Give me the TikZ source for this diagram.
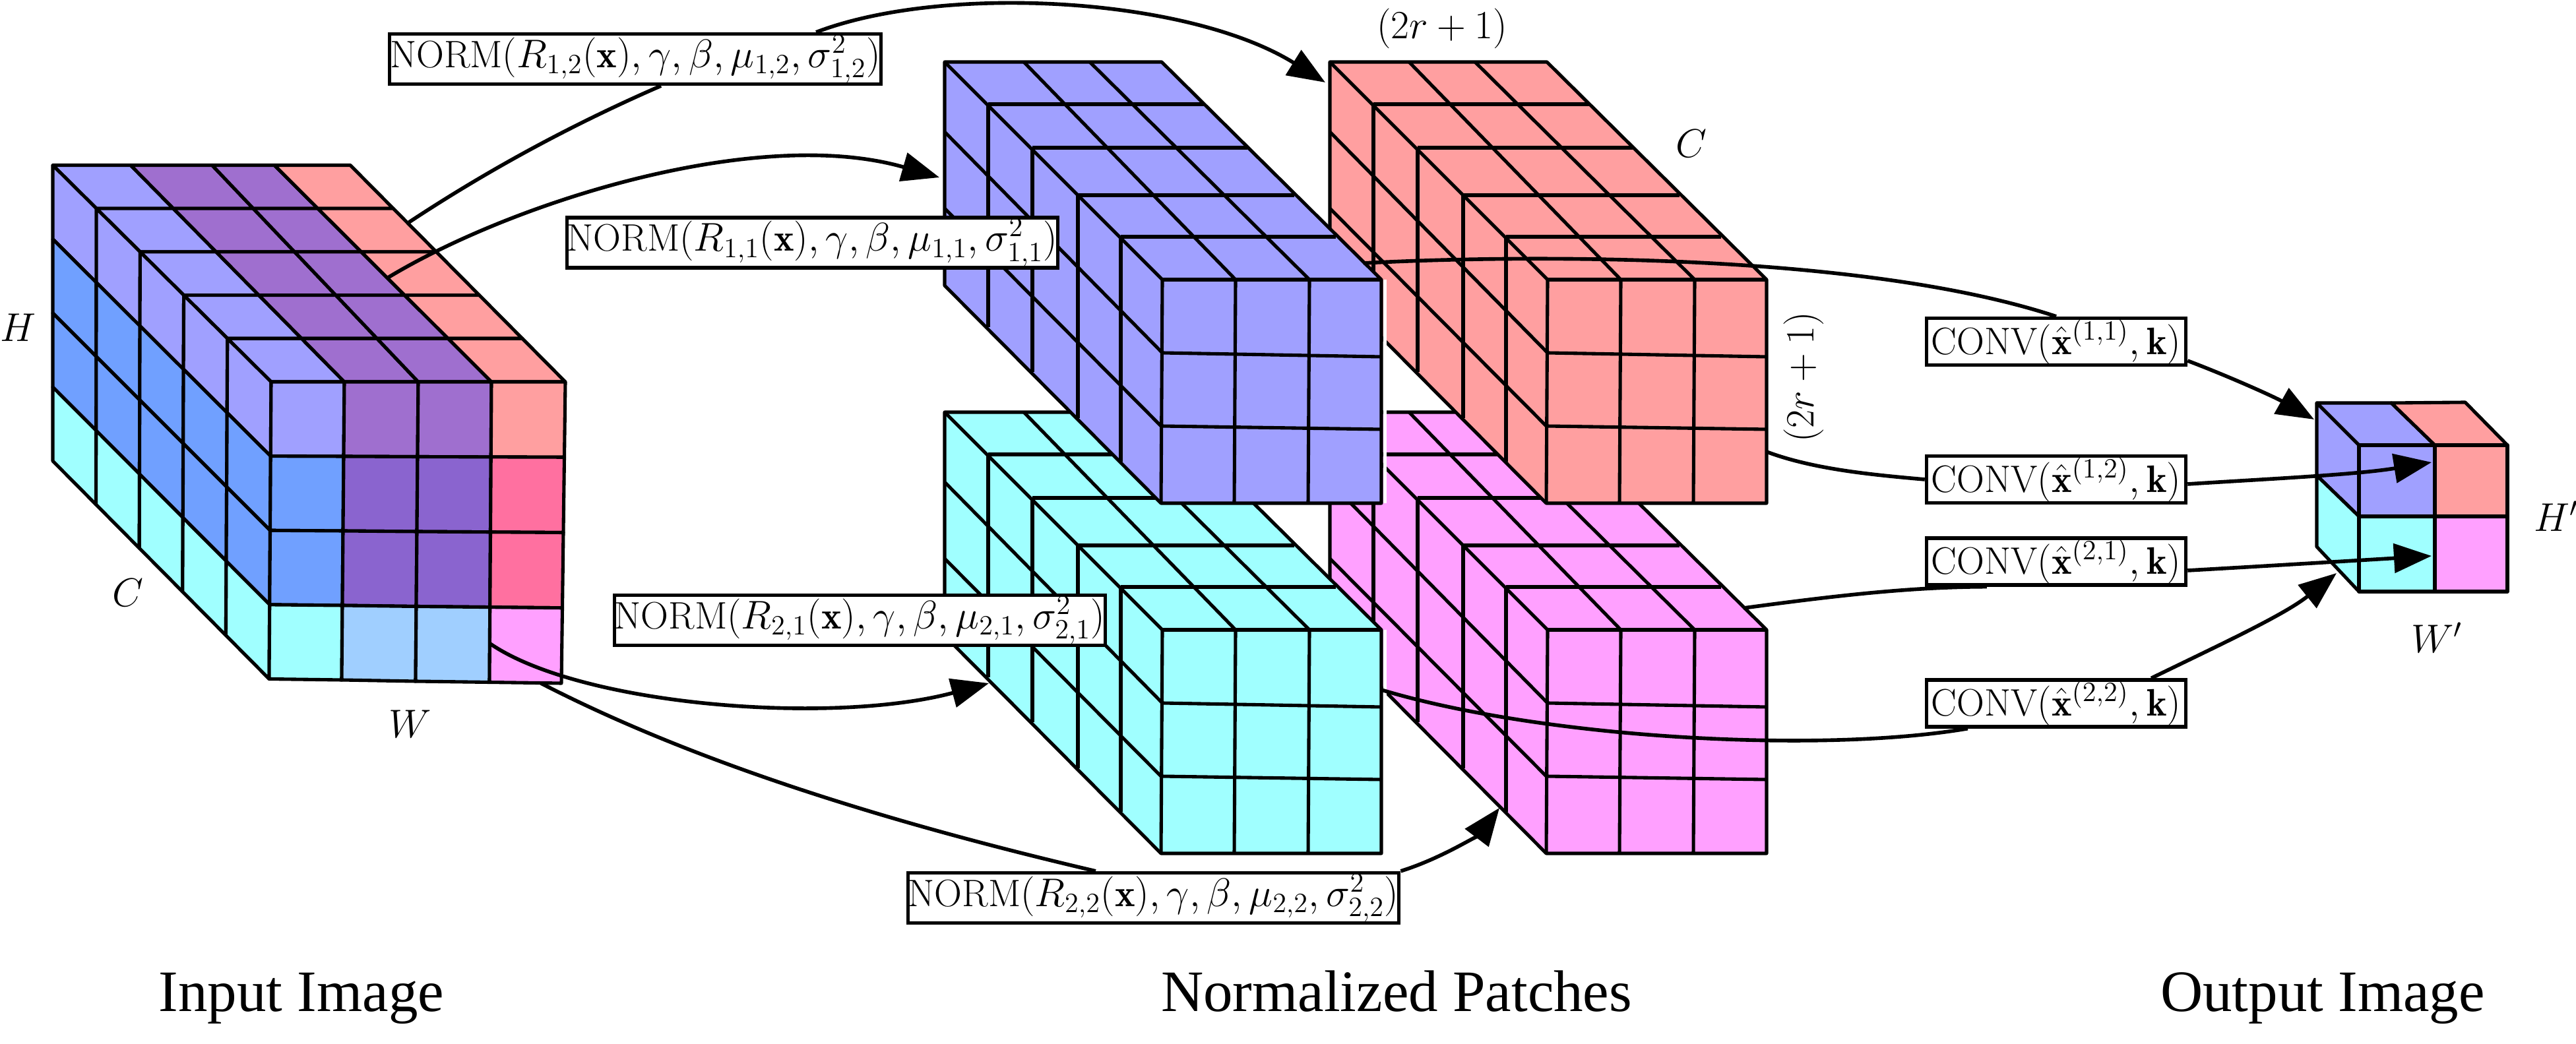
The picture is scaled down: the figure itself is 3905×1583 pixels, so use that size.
\documentclass[tikz,border=0pt]{standalone}
\usepackage{amsmath}
\usepackage{amssymb}
\usepackage{fontspec}
\newfontfamily\titlefont{Liberation Serif}
\usetikzlibrary{calc,arrows.meta}

\definecolor{cellblue}{HTML}{A0A0FF}
\definecolor{cellsky}{HTML}{70A0FF}
\definecolor{cellcyan}{HTML}{A0FFFF}
\definecolor{cellpurple}{HTML}{9F6FCF}
\definecolor{celldeep}{HTML}{8A64CF}
\definecolor{cellpale}{HTML}{A0CFFF}
\definecolor{cellred}{HTML}{FF9FA0}
\definecolor{cellrose}{HTML}{FF70A0}
\definecolor{cellpink}{HTML}{FFA0FF}

\tikzset{
  gridline/.style={line width=1.45pt, line join=round},
  flow/.style={line width=1.6pt},
  flowtip/.style={flow, -{Triangle[length=0.57cm,width=0.44cm]}},
  normbox/.style={draw, fill=white, line width=1.5pt, inner sep=0pt,
    minimum width=7.44cm, minimum height=0.76cm, font=\fontsize{16.5}{18}\selectfont},
  convbox/.style={draw, fill=white, line width=1.5pt, inner sep=0pt,
    minimum width=3.93cm, minimum height=0.71cm, font=\fontsize{16.5}{18}\selectfont},
  dimlabel/.style={font=\fontsize{17}{20}\selectfont},
  titlelabel/.style={anchor=base, font=\titlefont\fontsize{25.3}{30}\selectfont},
}

% one patch: all positions are those of the blue one
\newcommand{\patchcuboid}[3]{%
  \begin{scope}[shift={(#1,#2)}]
    \draw[gridline,fill=#3] (1432,94) -- (1761,94) -- (2094,424) -- (2094,763)
    -- (1760,763) -- (1432,433) -- cycle;
    \foreach \xa/\ya/\xb/\yb in {1498/158/1825/158, 1565/224/1891/224, 1634/296/1962/296,
      1699/359/2025/359, 1762/424/2094/424, 1552/94/1873/424, 1652/94/1985/424,
      1432/94/1762/424, 1498/158/1498/496, 1565/224/1565/564, 1634/296/1634/634,
      1699/359/1699/700, 1762/424/1760/763, 1432/200/1762/535, 1432/316/1760/646,
      1873/424/1871/763, 1985/424/1983/763, 1762/535/2094/541, 1760/646/2094/651}
    \draw[gridline] (\xa,\ya) -- (\xb,\yb);
    \fill[white] (2097,424) rectangle (2102,763);
  \end{scope}}

\begin{document}
\begin{tikzpicture}[x=0.01cm, y=-0.01cm]
  \useasboundingbox (0,0) rectangle (3905,1583);
  % Input image
  \foreach \ci/\xb/\xt/\xg/\yg in {0/80/411/408/1029.5, 1/198/522/518/1031,
    2/321.5/634/630/1033, 3/416/745/742/1034.5, 4/531/857/851/1036} {
    \coordinate (tb\ci) at (\xb,250.5);
    \coordinate (ft\ci) at (\xt,579);
    \coordinate (fb\ci) at (\xg,\yg);
  }
  \coordinate (bb) at (80,699);
  % top of the input image
  \foreach \ci/\cellfill [evaluate=\ci as \cj using int(\ci+1)] in
    {0/cellblue, 1/cellpurple, 2/cellpurple, 3/cellred}
    \foreach \da/\db in {0/1, 1/2, 2/3, 3/4, 4/5}
      \draw[gridline,fill=\cellfill] ($(tb\ci)!\da/5!(ft\ci)$) -- ($(tb\cj)!\da/5!(ft\cj)$)
      -- ($(tb\cj)!\db/5!(ft\cj)$) -- ($(tb\ci)!\db/5!(ft\ci)$) -- cycle;
  % side of the input image
  \foreach \da in {0,...,5} {
    \coordinate (st\da) at ($(tb0)!\da/5!(ft0)$);
    \coordinate (sb\da) at ($(bb)!\da/5!(fb0)$);
  }
  \foreach \ri/\cellfill [evaluate=\ri as \rj using int(\ri+1)] in
    {0/cellblue, 1/cellsky, 2/cellsky, 3/cellcyan}
    \foreach \da/\db in {0/1, 1/2, 2/3, 3/4, 4/5}
      \draw[gridline,fill=\cellfill] ($(st\da)!\ri/4!(sb\da)$) -- ($(st\db)!\ri/4!(sb\db)$)
      -- ($(st\db)!\rj/4!(sb\db)$) -- ($(st\da)!\rj/4!(sb\da)$) -- cycle;
  % front of the input image
  \foreach \ci/\ri/\cellfill [evaluate=\ci as \cj using int(\ci+1),
    evaluate=\ri as \rj using int(\ri+1)] in
    {0/0/cellblue, 1/0/cellpurple, 2/0/cellpurple, 3/0/cellred,
     0/1/cellsky, 1/1/celldeep, 2/1/celldeep, 3/1/cellrose,
     0/2/cellsky, 1/2/celldeep, 2/2/celldeep, 3/2/cellrose,
     0/3/cellcyan, 1/3/cellpale, 2/3/cellpale, 3/3/cellpink}
    \draw[gridline,fill=\cellfill] ($(ft\ci)!\ri/4!(fb\ci)$) -- ($(ft\cj)!\ri/4!(fb\cj)$)
    -- ($(ft\cj)!\rj/4!(fb\cj)$) -- ($(ft\ci)!\rj/4!(fb\ci)$) -- cycle;

  % Patches
  \patchcuboid{584}{531}{cellpink}
  \patchcuboid{584}{0}{cellred}
  \patchcuboid{0}{531}{cellcyan}
  \patchcuboid{0}{0}{cellblue}

  % Output image
  \draw[gridline,fill=cellblue] (3512,611) -- (3625,611) -- (3691,675) -- (3576,675) -- cycle;
  \draw[gridline,fill=cellred] (3625,611) -- (3737,610) -- (3801,675) -- (3691,675) -- cycle;
  \draw[gridline,fill=cellblue] (3512,611) -- (3576,675) -- (3576,783) -- (3512,721) -- cycle;
  \draw[gridline,fill=cellcyan] (3512,721) -- (3576,783) -- (3576,897) -- (3512,829) -- cycle;
  \draw[gridline,fill=cellblue] (3576,675) rectangle (3691,783);
  \draw[gridline,fill=cellred] (3691,675) rectangle (3801,783);
  \draw[gridline,fill=cellcyan] (3576,783) rectangle (3691,897);
  \draw[gridline,fill=cellpink] (3691,783) rectangle (3801,897);

  % Boxes
  \node[normbox] (norm12) at (963,89.5) {NORM$(R_{1,2}(\mathbf{x}),\gamma,\beta,\mu_{1,2},\sigma^2_{1,2})$};
  \node[normbox] (norm11) at (1231.5,368) {NORM$(R_{1,1}(\mathbf{x}),\gamma,\beta,\mu_{1,1},\sigma^2_{1,1})$};
  \node[normbox] (norm21) at (1303.5,940.5) {NORM$(R_{2,1}(\mathbf{x}),\gamma,\beta,\mu_{2,1},\sigma^2_{2,1})$};
  \node[normbox] (norm22) at (1748.5,1361.5) {NORM$(R_{2,2}(\mathbf{x}),\gamma,\beta,\mu_{2,2},\sigma^2_{2,2})$};
  \node[convbox] (conv11) at (3117,518) {CONV$(\hat{\mathbf{x}}^{(1,1)},\mathbf{k})$};
  \node[convbox] (conv12) at (3117,727) {CONV$(\hat{\mathbf{x}}^{(1,2)},\mathbf{k})$};
  \node[convbox] (conv21) at (3117,851.5) {CONV$(\hat{\mathbf{x}}^{(2,1)},\mathbf{k})$};
  \node[convbox] (conv22) at (3117,1066.5) {CONV$(\hat{\mathbf{x}}^{(2,2)},\mathbf{k})$};

  % Free ends of the connectors
  \coordinate (in12) at (620,337);
  \coordinate (in11) at (588,421);
  \coordinate (in21) at (743,976);
  \coordinate (in22) at (820,1036);
  \coordinate (to12) at (2009,125);
  \coordinate (to11) at (1424,269);
  \coordinate (to21) at (1499,1036);
  \coordinate (to22) at (2273,1225);
  \coordinate (from11) at (2067,399);
  \coordinate (from12) at (2678,685);
  \coordinate (from21) at (2643,922);
  \coordinate (from22) at (2094,1046);
  \coordinate (out11) at (3508,636);
  \coordinate (out12) at (3686,701);
  \coordinate (out21) at (3686,843);
  \coordinate (out22) at (3542,869);

  % Input to patches
  \draw[flow] (in12) .. controls (741,257) and (869,188) .. ([xshift=0.39cm]norm12.south);
  \draw[flowtip] ([xshift=2.74cm]norm12.north) .. controls (1430,-25) and (1800,-5) .. (to12);
  \draw[flowtip] (in11) .. controls (780,305) and (1150,190) .. (to11);
  \draw[flowtip] (in21) .. controls (880,1070) and (1260,1100) .. (to21);
  \draw[flow] (in22) .. controls (1070,1165) and (1380,1255) .. ([xshift=-0.875cm]norm22.north);
  \draw[flowtip] (norm22.north east) .. controls (2190,1300) and (2245,1262) .. (to22);

  % Patches to output
  \draw[flow] (from11) .. controls (2330,385) and (2830,385) .. (conv11.north);
  \draw[flowtip] ([yshift=-0.29cm]conv11.east) .. controls (3382,572) and (3448,602) .. (out11);
  \draw[flow] (from12) .. controls (2750,712) and (2840,720) .. (conv12.west);
  \draw[flowtip] ([yshift=-0.07cm]conv12.east) .. controls (3440,726) and (3570,720) .. (out12);
  \draw[flow] (from21) .. controls (2770,905) and (2890,890) .. ([xshift=-1.05cm]conv21.south);
  \draw[flowtip] ([yshift=-0.135cm]conv21.east) .. controls (3440,858) and (3570,850) .. (out21);
  \draw[flow] (from22) .. controls (2340,1120) and (2760,1143) .. ([xshift=-1.34cm]conv22.south);
  \draw[flowtip] ([xshift=1.44cm]conv22.north) .. controls (3360,980) and (3462,933) .. (out22);

  % Labels
  \node[dimlabel] (labelH) at (27.5,497) {$H$};
  \node[dimlabel] (labelC) at (194,899) {$C$};
  \node[dimlabel] (labelW) at (622,1098) {$W$};
  \node[dimlabel] (labelRtop) at (2186,43) {$(2r+1)$};
  \node[dimlabel] (labelCtop) at (2564,218) {$C$};
  \node[dimlabel,rotate=90] (labelRside) at (2734,572) {$(2r+1)$};
  \node[dimlabel] (labelHout) at (3875,783) {$H'$};
  \node[dimlabel] (labelWout) at (3694,967) {$W'$};
  \node[titlelabel] (titleinput) at (457,1534) {Input Image};
  \node[titlelabel] (titlepatches) at (2117,1534) {Normalized Patches};
  \node[titlelabel] (titleoutput) at (3521,1534) {Output Image};
\end{tikzpicture}
\end{document}
